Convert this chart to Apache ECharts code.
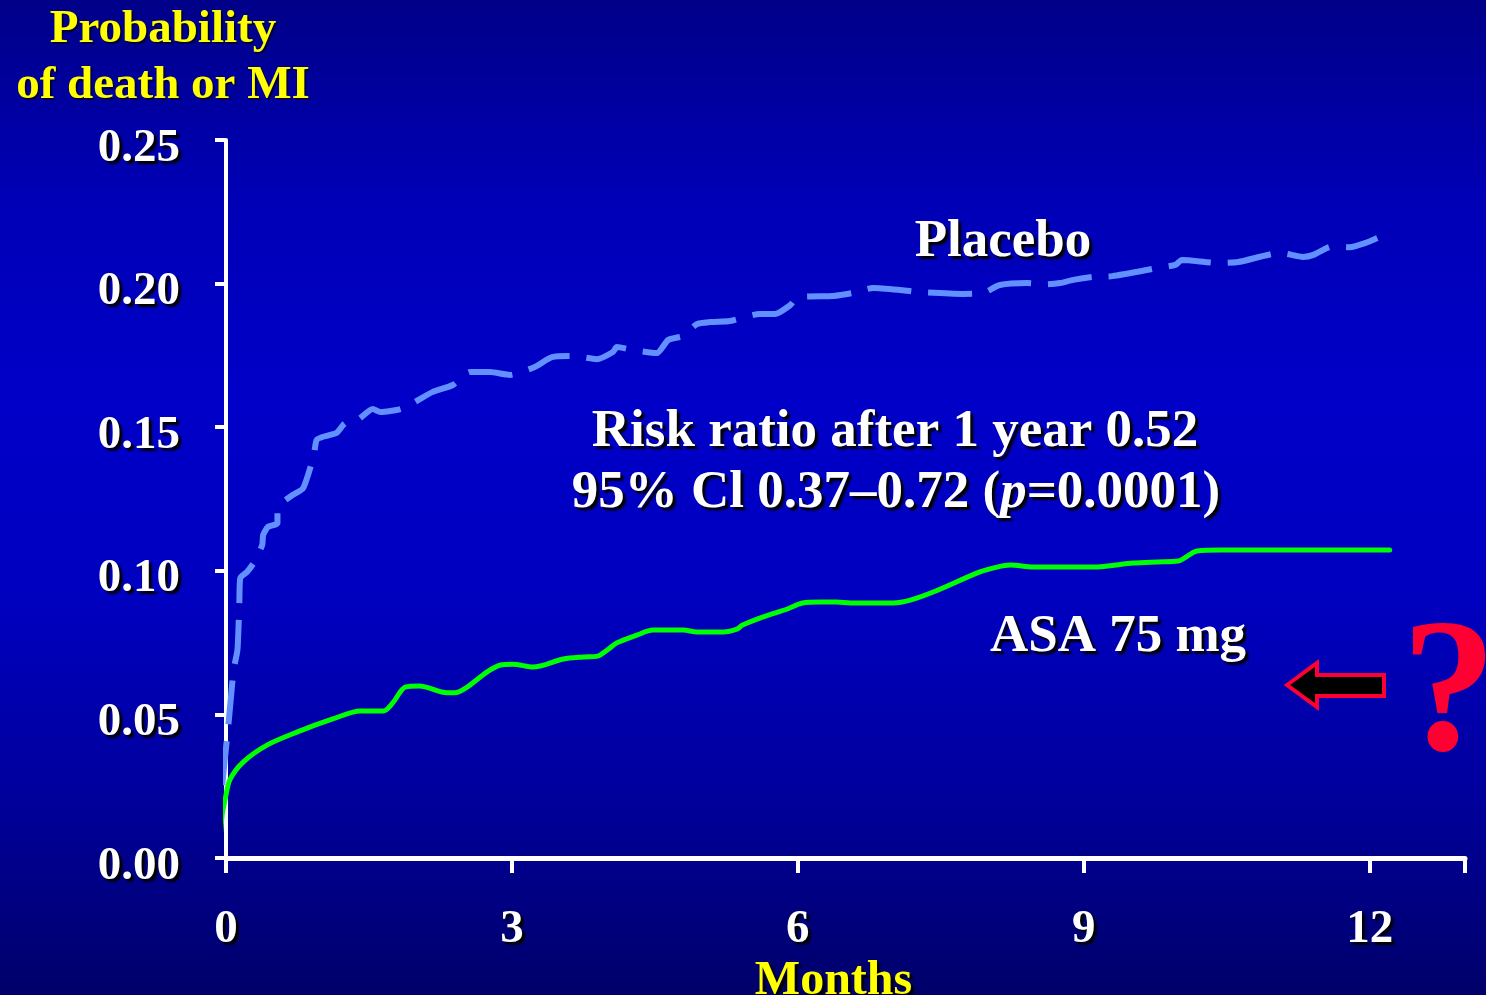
<!DOCTYPE html>
<html>
<head>
<meta charset="utf-8">
<title>Probability of death or MI</title>
<script src="https://cdn.jsdelivr.net/npm/echarts@6/dist/echarts.min.js"></script>
<style>
  html, body { margin: 0; padding: 0; background: #0000b0; }
  #chart { width: 1486px; height: 995px; }
</style>
</head>
<body>
<div id="chart"></div>
<script>
// Time since randomisation (months) and cumulative probability, placebo arm
var placeboMonths = [-0.04, 0.03, 0.08, 0.12, 0.14, 0.15, 0.22, 0.29, 0.38, 0.39, 0.44, 0.54, 0.54,
  0.70, 0.81, 0.92, 0.95, 1.01, 1.16, 1.23, 1.27, 1.38, 1.54, 1.62, 1.83, 1.96, 2.17, 2.38, 2.56,
  2.77, 2.98, 3.24, 3.42, 3.64, 3.89, 4.06, 4.10, 4.27, 4.52, 4.64, 4.80, 4.94, 5.08, 5.29, 5.60,
  5.76, 5.92, 6.00, 6.37, 6.57, 6.79, 7.07, 7.25, 7.73, 7.94, 8.12, 8.41, 8.61, 8.75, 8.89, 9.09,
  9.30, 9.77, 9.96, 10.03, 10.41, 10.62, 11.06, 11.30, 11.41, 11.55, 11.62, 11.79, 11.95, 12.08];
var placeboProb = [0.0254, 0.0481, 0.0655, 0.0724, 0.0888, 0.0975, 0.0996, 0.1027, 0.1090, 0.1125,
  0.1153, 0.1166, 0.1219, 0.1264, 0.1288, 0.1400, 0.1455, 0.1466, 0.1480, 0.1508, 0.1518, 0.1525,
  0.1563, 0.1553, 0.1563, 0.1584, 0.1623, 0.1647, 0.1692, 0.1692, 0.1682, 0.1710, 0.1744, 0.1748,
  0.1737, 0.1762, 0.1779, 0.1769, 0.1758, 0.1804, 0.1818, 0.1859, 0.1866, 0.1870, 0.1894, 0.1894,
  0.1925, 0.1953, 0.1957, 0.1967, 0.1985, 0.1978, 0.1971, 0.1964, 0.1967, 0.1995, 0.2002, 0.1998,
  0.2002, 0.2013, 0.2023, 0.2026, 0.2054, 0.2065, 0.2082, 0.2072, 0.2075, 0.2107, 0.2093, 0.2100,
  0.2124, 0.2131, 0.2127, 0.2141, 0.2159];

// Same, ASA 75 mg arm
var asaMonths = [-0.07, -0.04, -0.01, 0.04, 0.18, 0.43, 0.75, 1.12, 1.41, 1.65, 1.75, 1.88, 2.03,
  2.32, 2.40, 2.53, 2.74, 2.88, 3.01, 3.22, 3.54, 3.75, 3.90, 4.00, 4.10, 4.31, 4.48, 4.80, 4.94,
  5.22, 5.36, 5.42, 5.63, 5.89, 6.05, 6.23, 6.41, 6.55, 7.00, 7.18, 7.42, 7.91, 8.09, 8.23, 8.47,
  9.10, 9.52, 9.77, 9.99, 10.19, 10.43, 12.21];
var asaProb = [0.0031, 0.0150, 0.0202, 0.0272, 0.0334, 0.0393, 0.0439, 0.0484, 0.0512, 0.0512,
  0.0540, 0.0595, 0.0599, 0.0575, 0.0575, 0.0595, 0.0648, 0.0672, 0.0675, 0.0665, 0.0693, 0.0700,
  0.0703, 0.0724, 0.0749, 0.0776, 0.0794, 0.0794, 0.0787, 0.0787, 0.0797, 0.0811, 0.0839, 0.0867,
  0.0888, 0.0891, 0.0891, 0.0888, 0.0888, 0.0898, 0.0926, 0.0996, 0.1013, 0.1020, 0.1013, 0.1013,
  0.1027, 0.1031, 0.1034, 0.1069, 0.1072, 0.1072];

var monthTicks = [0, 3, 6, 9, 12];
var probTicks = ['0.00', '0.05', '0.10', '0.15', '0.20', '0.25'];

function pairs(xs, ys) {
  return xs.map(function (x, i) { return [x, ys[i]]; });
}

var serif = '"Liberation Serif", "Times New Roman", serif';
var shadow = { textShadowColor: '#000000', textShadowBlur: 2, textShadowOffsetX: 3, textShadowOffsetY: 3 };

var chart = echarts.init(document.getElementById('chart'), null, { renderer: 'canvas' });

var option = {
  animation: false,
  backgroundColor: {
    type: 'linear', x: 0, y: 0, x2: 0, y2: 1,
    colorStops: [
      { offset: 0, color: '#000088' },
      { offset: 0.2, color: '#0000b6' },
      { offset: 0.4, color: '#0000c8' },
      { offset: 0.6, color: '#0000c0' },
      { offset: 0.8, color: '#00009c' },
      { offset: 1, color: '#00006a' }
    ]
  },
  grid: { left: 226, top: 140, right: 21, bottom: 137, containLabel: false, outerBoundsMode: 'none' },
  xAxis: {
    type: 'value',
    min: 0, max: 13, interval: 3,
    name: 'Months',
    nameLocation: 'middle',
    nameGap: 91,
    nameTextStyle: Object.assign({
      color: '#ffff00', fontFamily: serif, fontWeight: 'bold', fontSize: 48,
      lineHeight: 48, padding: [0, 24, 0, 0]
    }, shadow),
    axisLine: { show: true, lineStyle: { color: '#ffffff', width: 5 } },
    axisTick: { show: true, length: 15, lineStyle: { color: '#ffffff', width: 4 } },
    splitLine: { show: false },
    axisLabel: Object.assign({
      color: '#ffffff', fontFamily: serif, fontWeight: 'bold', fontSize: 47, lineHeight: 47,
      margin: 48,
      formatter: function (v) { return monthTicks.indexOf(v) >= 0 ? String(v) : ''; }
    }, shadow)
  },
  yAxis: {
    type: 'value',
    min: 0, max: 0.25, interval: 0.05,
    axisLine: { show: true, lineStyle: { color: '#ffffff', width: 4 } },
    axisTick: { show: true, length: 11, lineStyle: { color: '#ffffff', width: 4 } },
    splitLine: { show: false },
    axisLabel: Object.assign({
      color: '#ffffff', fontFamily: serif, fontWeight: 'bold', fontSize: 47, lineHeight: 47,
      margin: 46,
      formatter: function (v) { return '{v|' + probTicks[Math.round(v / 0.05)] + '}'; },
      rich: {
        v: Object.assign({
          color: '#ffffff', fontFamily: serif, fontWeight: 'bold', fontSize: 47,
          lineHeight: 47, padding: [17, 0, 0, 0]
        }, shadow)
      }
    }, shadow)
  },
  series: [
    {
      name: 'Placebo',
      type: 'line',
      data: pairs(placeboMonths, placeboProb),
      showSymbol: false,
      clip: false,
      smooth: 0.2,
      lineStyle: { color: '#6291ff', width: 6, type: [44, 17], cap: 'butt' },
      z: 3
    },
    {
      name: 'ASA 75 mg',
      type: 'line',
      data: pairs(asaMonths, asaProb),
      showSymbol: false,
      clip: false,
      smooth: 0.3,
      lineStyle: { color: '#00ff00', width: 5, cap: 'round' },
      z: 4
    }
  ],
  graphic: [
    {
      type: 'text', x: 163, y: 2,
      style: {
        text: 'Probability\nof death or MI',
        fill: '#ffff00', font: 'bold 47px ' + serif, lineHeight: 56,
        align: 'center', verticalAlign: 'top',
        textShadowColor: 'rgba(0,0,0,0.6)', textShadowBlur: 1, textShadowOffsetX: 2, textShadowOffsetY: 2
      }
    },
    {
      type: 'text', x: 1003, y: 242,
      style: Object.assign({
        text: 'Placebo', fill: '#ffffff', font: 'bold 53px ' + serif,
        align: 'center', verticalAlign: 'middle'
      }, shadow)
    },
    {
      type: 'text', x: 895, y: 432,
      style: Object.assign({
        text: 'Risk ratio after 1 year 0.52', fill: '#ffffff', font: 'bold 53px ' + serif,
        align: 'center', verticalAlign: 'middle'
      }, shadow)
    },
    {
      type: 'text', x: 896, y: 493,
      style: Object.assign({
        text: '95% Cl 0.37\u20130.72 ({i|p}=0.0001)', fill: '#ffffff', font: 'bold 53px ' + serif,
        align: 'center', verticalAlign: 'middle',
        rich: { i: Object.assign({ fontStyle: 'italic', fontWeight: 'bold', fontSize: 53, fontFamily: serif, fill: '#ffffff' }, shadow) }
      }, shadow)
    },
    {
      type: 'text', x: 1118, y: 637,
      style: Object.assign({
        text: 'ASA 75 mg', fill: '#ffffff', font: 'bold 53px ' + serif,
        align: 'center', verticalAlign: 'middle'
      }, shadow)
    },
    {
      // left-pointing block arrow
      type: 'polygon',
      shape: { points: [[1287, 685], [1317, 663], [1317, 675], [1384, 675], [1384, 696], [1317, 696], [1317, 707]] },
      style: { fill: '#000000', stroke: '#ff0033', lineWidth: 4 }
    },
    {
      type: 'text', x: 1449, y: 700,
      style: {
        text: '?', fill: '#ff0033', font: 'bold 190px ' + serif,
        align: 'center', verticalAlign: 'middle'
      }
    }
  ]
};

chart.setOption(option);
</script>
</body>
</html>
